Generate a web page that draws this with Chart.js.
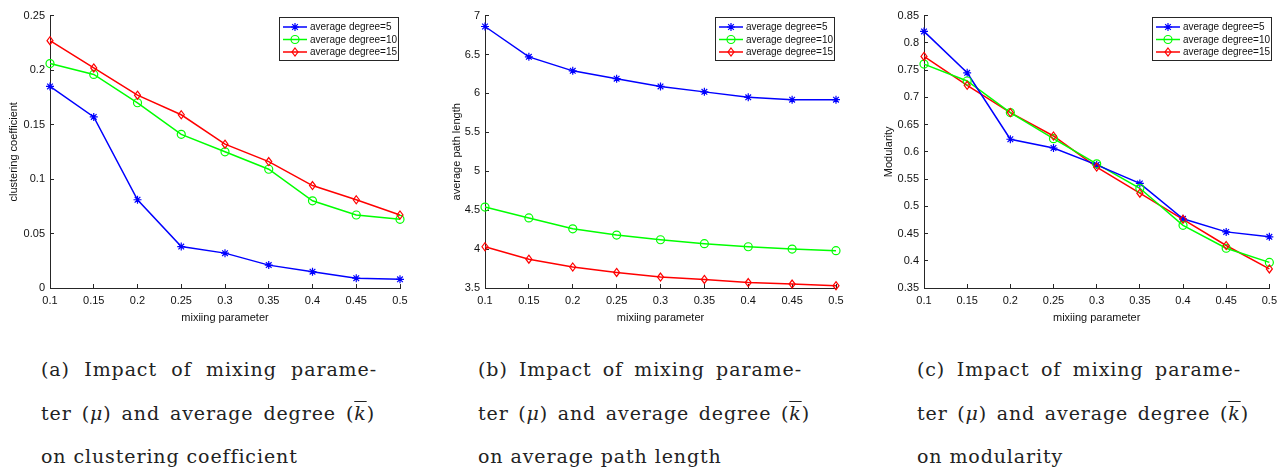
<!DOCTYPE html>
<html>
<head>
<meta charset="utf-8">
<script src="https://cdn.jsdelivr.net/npm/chart.js@4/dist/chart.umd.min.js"></script>
<style>
  body { margin: 0; background: #fff; width: 1287px; height: 470px; position: relative; overflow: hidden; }
  canvas { position: absolute; top: 0; }
  .cap { position: absolute; font-family: "DejaVu Serif", "Liberation Serif", serif; font-size: 19px; line-height: 20px; color: #222; letter-spacing: 0.9px; white-space: nowrap; }
  .cap.j { text-align: justify; text-align-last: justify; white-space: normal; }
</style>
</head>
<body>
<canvas id="c1" width="430" height="330" style="left:0"></canvas>
<canvas id="c2" width="430" height="330" style="left:430px"></canvas>
<canvas id="c3" width="427" height="330" style="left:860px"></canvas>

<div class="cap j" style="left:41px;top:359px;width:336px">(a) Impact of mixing parame-</div>
<div class="cap j" style="left:41px;top:403px;width:334px">ter (<i>μ</i>) and average degree (<i style="text-decoration:overline">k</i>)</div>
<div class="cap" style="left:41px;top:446px">on clustering coefficient</div>

<div class="cap j" style="left:478px;top:359px;width:324px">(b) Impact of mixing parame-</div>
<div class="cap j" style="left:478px;top:403px;width:332px">ter (<i>μ</i>) and average degree (<i style="text-decoration:overline">k</i>)</div>
<div class="cap" style="left:478px;top:446px">on average path length</div>

<div class="cap j" style="left:917px;top:359px;width:324px">(c) Impact of mixing parame-</div>
<div class="cap j" style="left:917px;top:403px;width:332px">ter (<i>μ</i>) and average degree (<i style="text-decoration:overline">k</i>)</div>
<div class="cap" style="left:917px;top:446px">on modularity</div>

<script>
// mixing parameter values (x axis)
const mixing = ['0.1', '0.15', '0.2', '0.25', '0.3', '0.35', '0.4', '0.45', '0.5'];
const seriesNames = ['average degree=5', 'average degree=10', 'average degree=15'];

// (a) clustering coefficient
const clustDeg5 = [0.185, 0.157, 0.081, 0.038, 0.032, 0.021, 0.015, 0.009, 0.008];
const clustDeg10 = [0.206, 0.196, 0.170, 0.141, 0.125, 0.109, 0.080, 0.067, 0.063];
const clustDeg15 = [0.227, 0.202, 0.177, 0.159, 0.132, 0.116, 0.094, 0.081, 0.067];

// (b) average path length
const pathDeg5 = [6.86, 6.47, 6.29, 6.19, 6.09, 6.02, 5.95, 5.92, 5.92];
const pathDeg10 = [4.54, 4.40, 4.26, 4.18, 4.12, 4.07, 4.03, 4.00, 3.98];
const pathDeg15 = [4.03, 3.87, 3.77, 3.70, 3.64, 3.61, 3.57, 3.55, 3.53];

// (c) modularity
const modDeg5 = [0.821, 0.745, 0.623, 0.607, 0.576, 0.542, 0.477, 0.453, 0.444];
const modDeg10 = [0.761, 0.730, 0.672, 0.624, 0.578, 0.533, 0.465, 0.423, 0.397];
const modDeg15 = [0.775, 0.722, 0.672, 0.629, 0.572, 0.524, 0.476, 0.428, 0.385];

const AXIS = '#262626';
const SANS = '"Liberation Sans", Arial, Helvetica, sans-serif';
const lineColors = ['#0000ff', '#00ff00', '#ff0000'];
const markers = ['star', 'circle', 'rectRot'];

function drawMarker(ctx, style, x, y, r) {
    ctx.beginPath();
    if (style === 'circle') {
        ctx.arc(x, y, r, 0, Math.PI * 2);
    } else if (style === 'rectRot') {
        ctx.moveTo(x, y - r); ctx.lineTo(x + r * 0.75, y);
        ctx.lineTo(x, y + r); ctx.lineTo(x - r * 0.75, y); ctx.closePath();
    } else {
        const d = r * Math.SQRT1_2;
        ctx.moveTo(x - r, y); ctx.lineTo(x + r, y);
        ctx.moveTo(x, y - r); ctx.lineTo(x, y + r);
        ctx.moveTo(x - d, y - d); ctx.lineTo(x + d, y + d);
        ctx.moveTo(x - d, y + d); ctx.lineTo(x + d, y - d);
    }
    ctx.stroke();
}

// MATLAB style legend box in the top right corner of the plot
const boxLegend = {
    id: 'boxLegend',
    afterDatasetsDraw(chart, args, opts) {
        const ctx = chart.ctx, area = chart.chartArea;
        const sets = chart.data.datasets;
        ctx.save();
        ctx.font = '10px ' + SANS;
        const w = 119, h = 43;
        const x = Math.round(area.right + (opts.shift || 0) - w), y = Math.round(area.top + 1);
        ctx.fillStyle = '#fff';
        ctx.fillRect(x, y, w, h);
        ctx.strokeStyle = AXIS;
        ctx.lineWidth = 1;
        ctx.strokeRect(x + 0.5, y + 0.5, w, h);
        sets.forEach((d, i) => {
            const cy = y + 10 + i * 12.5;
            ctx.strokeStyle = d.borderColor;
            ctx.lineWidth = 1.5;
            ctx.beginPath();
            ctx.moveTo(x + 4, cy); ctx.lineTo(x + 28, cy);
            ctx.stroke();
            ctx.lineWidth = 1.2;
            drawMarker(ctx, d.pointStyle, x + 16, cy, 4);
            ctx.fillStyle = '#111';
            ctx.textBaseline = 'middle';
            ctx.fillText(d.label, x + 31, cy + 0.5);
        });
        ctx.restore();
    }
};

// same marker shapes as the legend, drawn at the scale positions of each value
const matlabMarkers = {
    id: 'matlabMarkers',
    afterDatasetsDraw(chart) {
        const ctx = chart.ctx;
        ctx.save();
        chart.data.datasets.forEach((d, i) => {
            const meta = chart.getDatasetMeta(i);
            ctx.strokeStyle = d.borderColor;
            ctx.lineWidth = 1.2;
            meta.data.forEach(pt => drawMarker(ctx, d.pointStyle, pt.x, pt.y, 4));
        });
        ctx.restore();
    }
};

function makeChart(id, yTitle, values, yMin, yMax, yStep, area) {
    const canvas = document.getElementById(id);
    const datasets = values.map((v, i) => ({
        label: seriesNames[i],
        data: v,
        borderColor: lineColors[i],
        borderWidth: 1.5,
        pointStyle: markers[i],
        pointRadius: 0,
        tension: 0,
        fill: false
    }));
    return new Chart(canvas.getContext('2d'), {
        type: 'line',
        data: { labels: mixing, datasets: datasets },
        options: {
            responsive: false,
            animation: false,
            layout: { padding: { left: 0, top: 12, right: canvas.width - area.right, bottom: 0 } },
            plugins: { legend: { display: false }, tooltip: { enabled: false }, boxLegend: { shift: area.legendShift } },
            scales: {
                x: {
                    type: 'category',
                    offset: false,
                    grid: { drawOnChartArea: false, color: AXIS, tickLength: -4, lineWidth: 1 },
                    border: { color: AXIS, width: 1 },
                    ticks: { color: '#111', font: { family: SANS, size: 11 }, padding: 10, maxRotation: 0, autoSkip: false },
                    title: { display: true, text: 'mixiing parameter', color: '#111', font: { family: SANS, size: 11 }, padding: { top: 0, bottom: 5.4 } },
                    afterFit: s => { s.height = 42; }
                },
                y: {
                    min: yMin,
                    max: yMax,
                    grid: { drawOnChartArea: false, color: AXIS, tickLength: -4, lineWidth: 1 },
                    border: { color: AXIS, width: 1 },
                    ticks: {
                        stepSize: yStep, color: '#111', font: { family: SANS, size: 11 }, padding: 9,
                        callback: v => String(Number(v.toFixed(3)))
                    },
                    title: { display: true, text: yTitle, color: '#111', font: { family: SANS, size: 11 }, padding: { top: area.titleX - 6.6, bottom: 0 } },
                    afterFit: s => { s.width = area.left; }
                }
            }
        },
        plugins: [matlabMarkers, boxLegend]
    });
}

document.addEventListener('DOMContentLoaded', function() {
    makeChart('c1', 'clustering coefficient', [clustDeg5, clustDeg10, clustDeg15], 0, 0.25, 0.05,
        { left: 50, right: 400, titleX: 14, legendShift: -2 });
    makeChart('c2', 'average path length', [pathDeg5, pathDeg10, pathDeg15], 3.5, 7, 0.5,
        { left: 55, right: 406, titleX: 27, legendShift: -2 });
    makeChart('c3', 'Modularity', [modDeg5, modDeg10, modDeg15], 0.35, 0.85, 0.05,
        { left: 64, right: 413, titleX: 29, legendShift: 2 });
});
</script>
</body>
</html>
